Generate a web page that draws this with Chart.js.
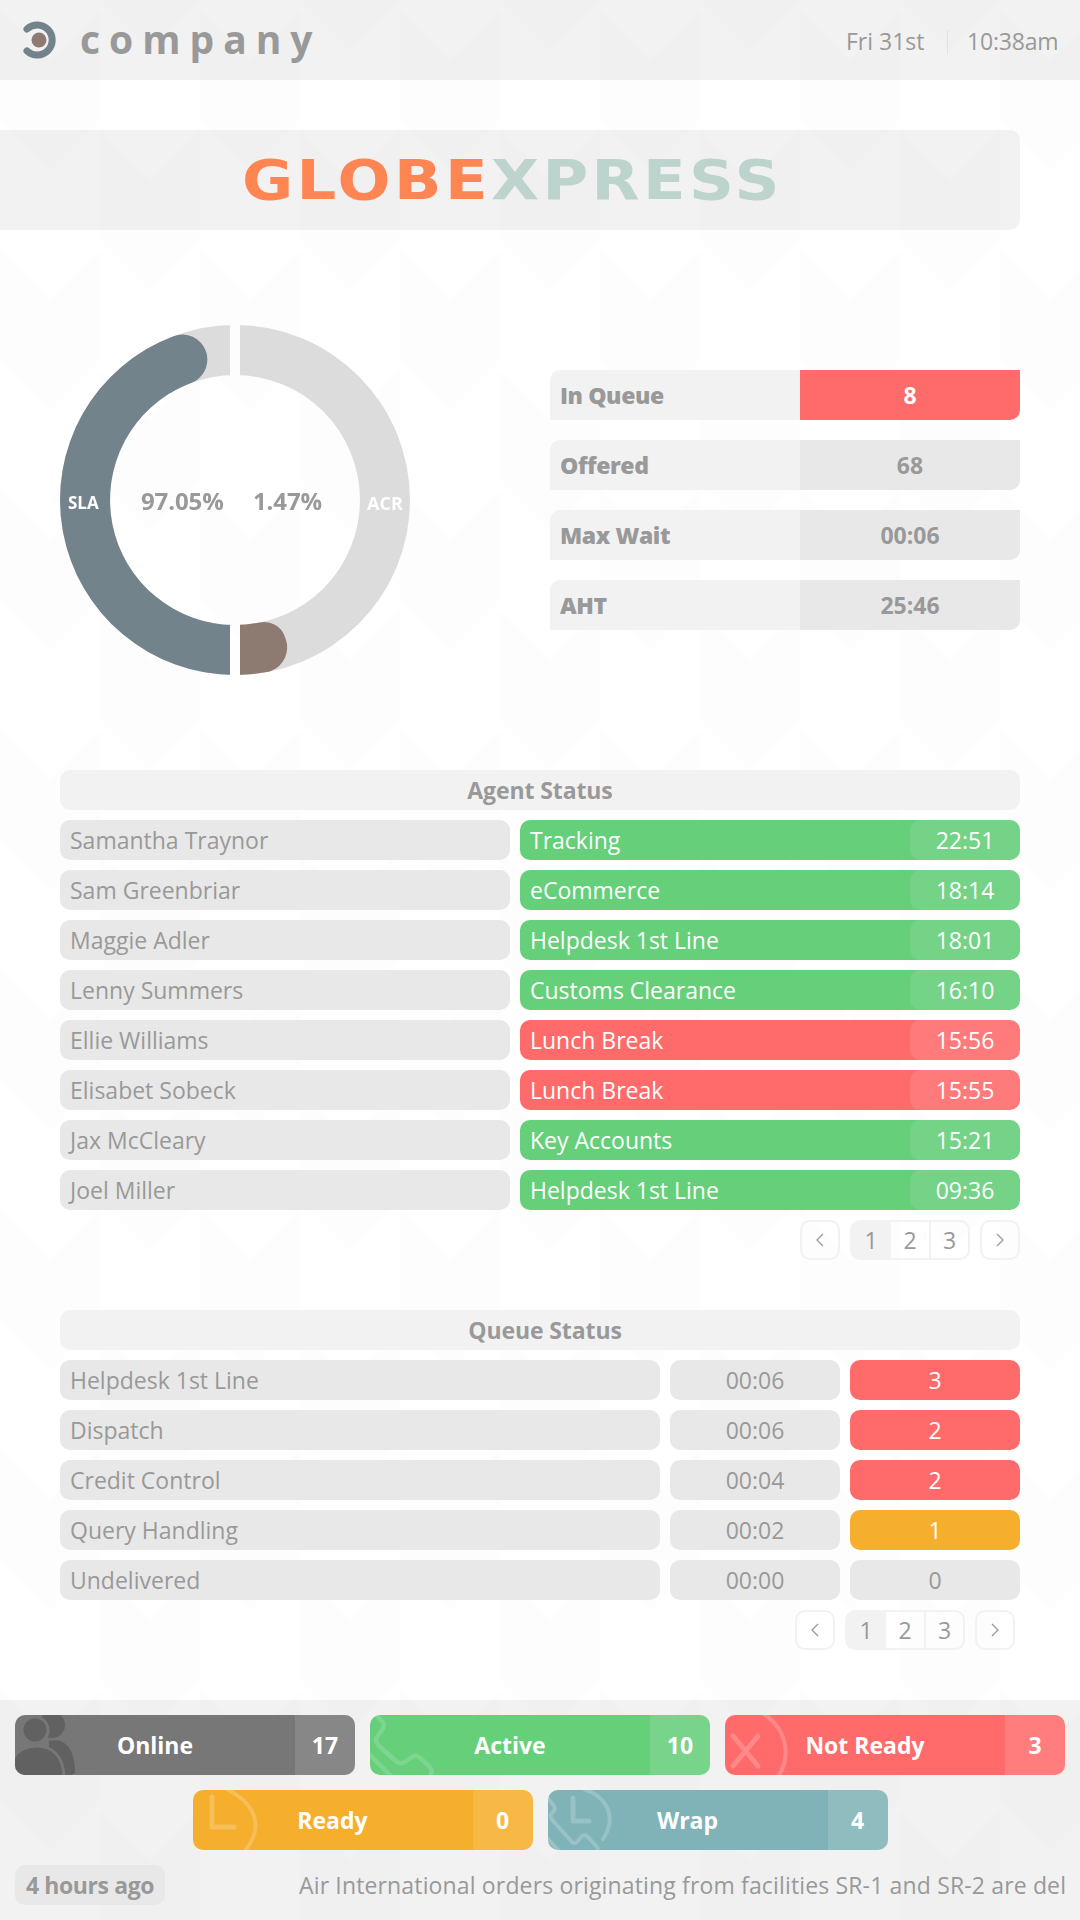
<!DOCTYPE html>
<html>
<head>
<meta charset="utf-8">
<script src="https://cdn.jsdelivr.net/npm/chart.js@4"></script>
<style>
  html, body { margin: 0; padding: 0; }
  body {
    width: 1080px; height: 1920px; position: relative; overflow: hidden; background-color: #fff; color: #999;
    font-family: "Open Sans", sans-serif; font-size: 23px;
    background-image: url("data:image/svg+xml,%3Csvg xmlns='http://www.w3.org/2000/svg' width='200' height='240'%3E%3Cg fill='%23000' fill-opacity='.007'%3E%3Cpath d='M0 10L50 60V170L0 120Z'/%3E%3Cpath d='M50 60L100 10V120L50 170Z'/%3E%3Cpath d='M100 130L150 180V290L100 240Z'/%3E%3Cpath d='M150 180L200 130V240L150 290Z'/%3E%3Cpath d='M100 -110L150 -60V50L100 0Z'/%3E%3Cpath d='M150 -60L200 -110V0L150 50Z'/%3E%3C/g%3E%3C/svg%3E");
  }
  .box { position: absolute; box-sizing: border-box; height: 40px; line-height: 40px; border-radius: 10px; white-space: nowrap; overflow: hidden; }
  .band { position: absolute; left: 0; width: 1080px; background: rgba(0,0,0,.05); }
  .name { background: #e8e8e8; padding-left: 10px; }
  .head { background: #f2f2f2; text-align: center; font-weight: 700; letter-spacing: -.1px; }
  .state { color: #fff; padding-left: 10px; }
  .state span { position: absolute; right: 0; top: 0; width: 110px; height: 40px; text-align: center; background: rgba(255,255,255,.1); border-radius: 10px; }
  .cell { text-align: center; }
  .kpi { position: absolute; left: 550px; width: 470px; height: 50px; line-height: 50px; font-weight: 700; border-radius: 10px 0 10px 0; background: #f2f2f2; overflow: hidden; }
  .kpi b { position: absolute; left: 10px; letter-spacing: -.4px; }
  .kpi span { position: absolute; right: 0; top: 0; width: 220px; height: 50px; text-align: center; background: #e8e8e8; }
  .kpi span.alert { background: #ff6b6b; color: #fff; }
  .pg { position: absolute; box-sizing: border-box; height: 40px; line-height: 36px; text-align: center; border: 2px solid #f2f2f2; color: #999; }
  .pg svg { display: block; margin: 11px auto 0; }
  .tile { position: absolute; box-sizing: border-box; width: 340px; height: 60px; line-height: 60px; border-radius: 10px; color: #fff; font-weight: 700; overflow: hidden; text-align: center; padding-right: 60px; }
  .tile i { position: absolute; right: 0; top: 0; width: 60px; height: 60px; font-style: normal; text-align: center; background: rgba(255,255,255,.12); }
  .tile svg { position: absolute; left: 0; top: 0; }
  canvas { position: absolute; }
  .ringtxt { position: absolute; font-weight: 700; line-height: 30px; height: 30px; white-space: nowrap; }
</style>
</head>
<body>
<div class="band" style="top:0;height:80px"></div>
<svg style="position:absolute;left:20px;top:20px" width="40" height="40" viewBox="0 0 40 40">
  <path d="M7 9A15 15 0 1 1 7 31" fill="none" stroke="#72838c" stroke-width="7" stroke-linecap="round"/>
  <circle cx="19" cy="20" r="7.5" fill="#8d7b72"/>
</svg>
<div style="position:absolute;left:80px;top:14px;font:700 39px/50px 'Open Sans';letter-spacing:9px;color:#999">company</div>
<div style="position:absolute;left:846px;top:24px;font-size:23px;line-height:34px">Fri 31st</div>
<div style="position:absolute;left:947px;top:30px;width:1px;height:24px;background:#e2e2e2"></div>
<div style="position:absolute;left:967px;top:24px;font-size:23px;line-height:34px;letter-spacing:-.2px">10:38am</div>

<div style="position:absolute;left:-10px;top:130px;width:1030px;height:100px;background:rgba(0,0,0,.05);border-radius:10px"></div>
<div id="brand" style="position:absolute;left:242px;top:145px;font:700 55px/70px 'DejaVu Sans';letter-spacing:3px;transform-origin:0 50%;white-space:nowrap"><span style="color:#ff8552">GLOBE</span><span style="color:#bdd3ce">XPRESS</span></div>

<canvas id="ring-track" width="400" height="400" style="left:35px;top:300px;width:400px;height:400px"></canvas>
<canvas id="ring-value" width="400" height="400" style="left:35px;top:300px;width:400px;height:400px"></canvas>
<div id="ring-labels"></div>
<div id="kpis"></div>
<div id="agents"></div>
<div id="queues"></div>

<div class="band" style="top:1700px;height:220px"></div>
<div id="tiles"></div>
<div class="box" style="left:15px;top:1865px;width:150px;background:#e8e8e8;text-align:center;font-weight:700;font-size:23px;letter-spacing:-.4px">4 hours ago</div>
<div id="ticker" style="position:absolute;left:299px;top:1865px;height:40px;line-height:40px;white-space:nowrap;letter-spacing:.15px">Air International orders originating from facilities SR-1 and SR-2 are del</div>

<script>
  // gauge labels and readings
  const ringLabels = ['SLA', 'ACR'];
  const ringReadings = ['97.05%', '1.47%'];
  // sweep of each ring part in degrees, clockwise from the top
  const trackSweep = [180, 180];
  const valueSweep = [160, 20, 169, 11];
  const valueColors = ['transparent', '#8d7b72', '#72838c', 'transparent'];

  const kpiNames = ['In Queue', 'Offered', 'Max Wait', 'AHT'];
  const kpiValues = ['8', '68', '00:06', '25:46'];

  const agentNames = ['Samantha Traynor', 'Sam Greenbriar', 'Maggie Adler', 'Lenny Summers', 'Ellie Williams', 'Elisabet Sobeck', 'Jax McCleary', 'Joel Miller'];
  const agentStates = ['Tracking', 'eCommerce', 'Helpdesk 1st Line', 'Customs Clearance', 'Lunch Break', 'Lunch Break', 'Key Accounts', 'Helpdesk 1st Line'];
  const agentTimes = ['22:51', '18:14', '18:01', '16:10', '15:56', '15:55', '15:21', '09:36'];

  const queueNames = ['Helpdesk 1st Line', 'Dispatch', 'Credit Control', 'Query Handling', 'Undelivered'];
  const queueWaits = ['00:06', '00:06', '00:04', '00:02', '00:00'];
  const queueCounts = [3, 2, 2, 1, 0];

  const tileNames = ['Online', 'Active', 'Not Ready', 'Ready', 'Wrap'];
  const tileCounts = [17, 10, 3, 0, 4];

  const RED = '#ff6b6b';
  const GREEN = '#65cf7a';
  const AMBER = '#f6af2d';

  const cap = 25;
  const valueRadius = [
    0,
    { outerStart: cap, innerStart: cap, outerEnd: 0, innerEnd: 0 },
    { outerStart: 0, innerStart: 0, outerEnd: cap, innerEnd: cap },
    0
  ];

  // the straight slit through the ring at 12 and 6 o'clock, spacing would make it a wedge
  const ringSlit = {
    id: 'ringSlit',
    beforeDatasetsDraw(chart) {
      const { ctx, width, height } = chart;
      const cx = chart.chartArea.width / 2;
      ctx.save();
      ctx.beginPath();
      ctx.rect(0, 0, cx - 5, height);
      ctx.rect(cx + 5, 0, width - cx - 5, height);
      ctx.clip();
    },
    afterDatasetsDraw(chart) {
      chart.ctx.restore();
    }
  };

  function ringChart(id, data, colors, radius) {
    return new Chart(document.getElementById(id), {
      type: 'doughnut',
      data: {
        labels: data.map((_, i) => String(i)),
        datasets: [{ data, backgroundColor: colors, borderWidth: 0, hoverOffset: 0, borderRadius: radius }]
      },
      options: {
        responsive: false,
        animation: false,
        radius: 175,
        cutout: '71.43%',
        layout: { padding: 0 },
        plugins: { legend: { display: false }, tooltip: { enabled: false } }
      },
      plugins: [ringSlit]
    });
  }

  ringChart('ring-track', trackSweep, ['#dcdcdc', '#dcdcdc'], 0);
  ringChart('ring-value', valueSweep, valueColors, (ctx) => valueRadius[ctx.dataIndex]);

  document.getElementById('ring-labels').innerHTML = `
    <div class="ringtxt" style="left:68px;top:488px;font-size:17px;color:#fff">${ringLabels[0]}</div>
    <div class="ringtxt" style="left:367px;top:488px;font-size:18px;color:#fff">${ringLabels[1]}</div>
    <div class="ringtxt" style="left:141px;top:486px;font-size:24px;letter-spacing:-.1px">${ringReadings[0]}</div>
    <div class="ringtxt" style="left:253px;top:486px;font-size:24px;letter-spacing:-.1px">${ringReadings[1]}</div>`;

  document.getElementById('kpis').innerHTML = kpiNames.map((name, i) => `
    <div class="kpi" style="top:${370 + i * 70}px"><b>${name}</b><span class="${i === 0 ? 'alert' : ''}">${kpiValues[i]}</span></div>`).join('');

  const chevron = (d) => `<svg width="10" height="14" viewBox="0 0 10 14"><path d="${d}" fill="none" stroke="#999" stroke-width="1.3"/></svg>`;

  function pager(top, shift) {
    const left = (x) => x - shift;
    return `
      <div class="pg" style="top:${top}px;left:${left(800)}px;width:40px;border-radius:10px">${chevron('M8 1L2 7L8 13')}</div>
      <div class="pg" style="top:${top}px;left:${left(850)}px;border-radius:10px 0 0 10px;background:#f2f2f2;border-right-width:0;width:40px">1</div>
      <div class="pg" style="top:${top}px;left:${left(889)}px;width:42px">2</div>
      <div class="pg" style="top:${top}px;left:${left(929)}px;width:41px;border-radius:0 10px 10px 0">3</div>
      <div class="pg" style="top:${top}px;left:${left(980)}px;width:40px;border-radius:10px">${chevron('M2 1L8 7L2 13')}</div>`;
  }

  let agentHtml = `<div class="box head" style="left:60px;top:770px;width:960px">Agent Status</div>`;
  agentNames.forEach((name, i) => {
    const top = 820 + i * 50;
    const colour = agentStates[i] === 'Lunch Break' ? RED : GREEN;
    agentHtml += `
      <div class="box name" style="left:60px;top:${top}px;width:450px">${name}</div>
      <div class="box state" style="left:520px;top:${top}px;width:500px;background:${colour}">${agentStates[i]}<span>${agentTimes[i]}</span></div>`;
  });
  document.getElementById('agents').innerHTML = agentHtml + pager(1220, 0);

  let queueHtml = `<div class="box head" style="left:60px;top:1310px;width:960px;padding-left:10px">Queue Status</div>`;
  queueNames.forEach((name, i) => {
    const top = 1360 + i * 50;
    const count = queueCounts[i];
    const fill = count >= 2 ? RED : count === 1 ? AMBER : '#e8e8e8';
    queueHtml += `
      <div class="box name" style="left:60px;top:${top}px;width:600px">${name}</div>
      <div class="box name cell" style="left:670px;top:${top}px;width:170px;padding:0">${queueWaits[i]}</div>
      <div class="box cell" style="left:850px;top:${top}px;width:170px;background:${fill};color:${count ? '#fff' : '#999'}">${count}</div>`;
  });
  document.getElementById('queues').innerHTML = queueHtml + pager(1610, 5);

  const handset = 'M4 -2L13 7Q16 11 9 19Q4 24 8 30L27 47Q32 50 36 46L42 42Q46 39 50 43L60 52Q63 56 60 64M-3 37L24 64';
  const wrapHandset = 'M-2 6L6 16Q8 20 4 23Q1 26 5 31L24 52Q27 55 30 51L34 46Q37 44 40 47L49 57Q51 60 49 64M-3 46L12 62';
  const line = (d, w) => `<path d="${d}" fill="none" stroke-width="${w}" stroke-linecap="round" stroke-linejoin="round"/>`;
  const tileIcons = [
    '<g fill="#616161"><circle cx="37" cy="10" r="13"/><path d="M34 26C50 22 60 34 60 58L56 60H34Z"/></g><g fill="#616161" stroke="#777" stroke-width="3"><circle cx="20" cy="15" r="13"/><path d="M-6 64C-6 40 6 31 22 31C38 31 49 42 49 64Z"/></g>',
    `<g stroke="#fff" stroke-opacity=".16">${line(handset, 4.5)}</g>`,
    `<g stroke="#fff" stroke-opacity=".2">${line('M8 21L33 51M33 21L8 51', 5)}${line('M34 -4C66 14 66 46 50 66', 4)}</g>`,
    `<g stroke="#fff" stroke-opacity=".2">${line('M19 7V37H41', 5)}${line('M32 -2C68 16 70 42 49 64', 4)}</g>`,
    `<g stroke="#fff" stroke-opacity=".2">${line('M25 8V31H41', 5)}${line('M36 -1C62 8 68 30 55 49', 4)}${line(wrapHandset, 4)}</g>`
  ];
  const tileLefts = [15, 370, 725, 192.5, 547.5];
  const tileTops = [1715, 1715, 1715, 1790, 1790];
  const tileFills = ['#777', GREEN, RED, AMBER, '#7fb3b7'];

  document.getElementById('tiles').innerHTML = tileNames.map((name, i) => `
    <div class="tile" style="left:${tileLefts[i]}px;top:${tileTops[i]}px;background:${tileFills[i]}">
      <svg width="100" height="60" viewBox="0 0 100 60">${tileIcons[i]}</svg>${name}<i>${tileCounts[i]}</i>
    </div>`).join('');

  const brand = document.getElementById('brand');
  brand.style.transform = `scaleX(${541 / brand.offsetWidth})`;
</script>
</body>
</html>
